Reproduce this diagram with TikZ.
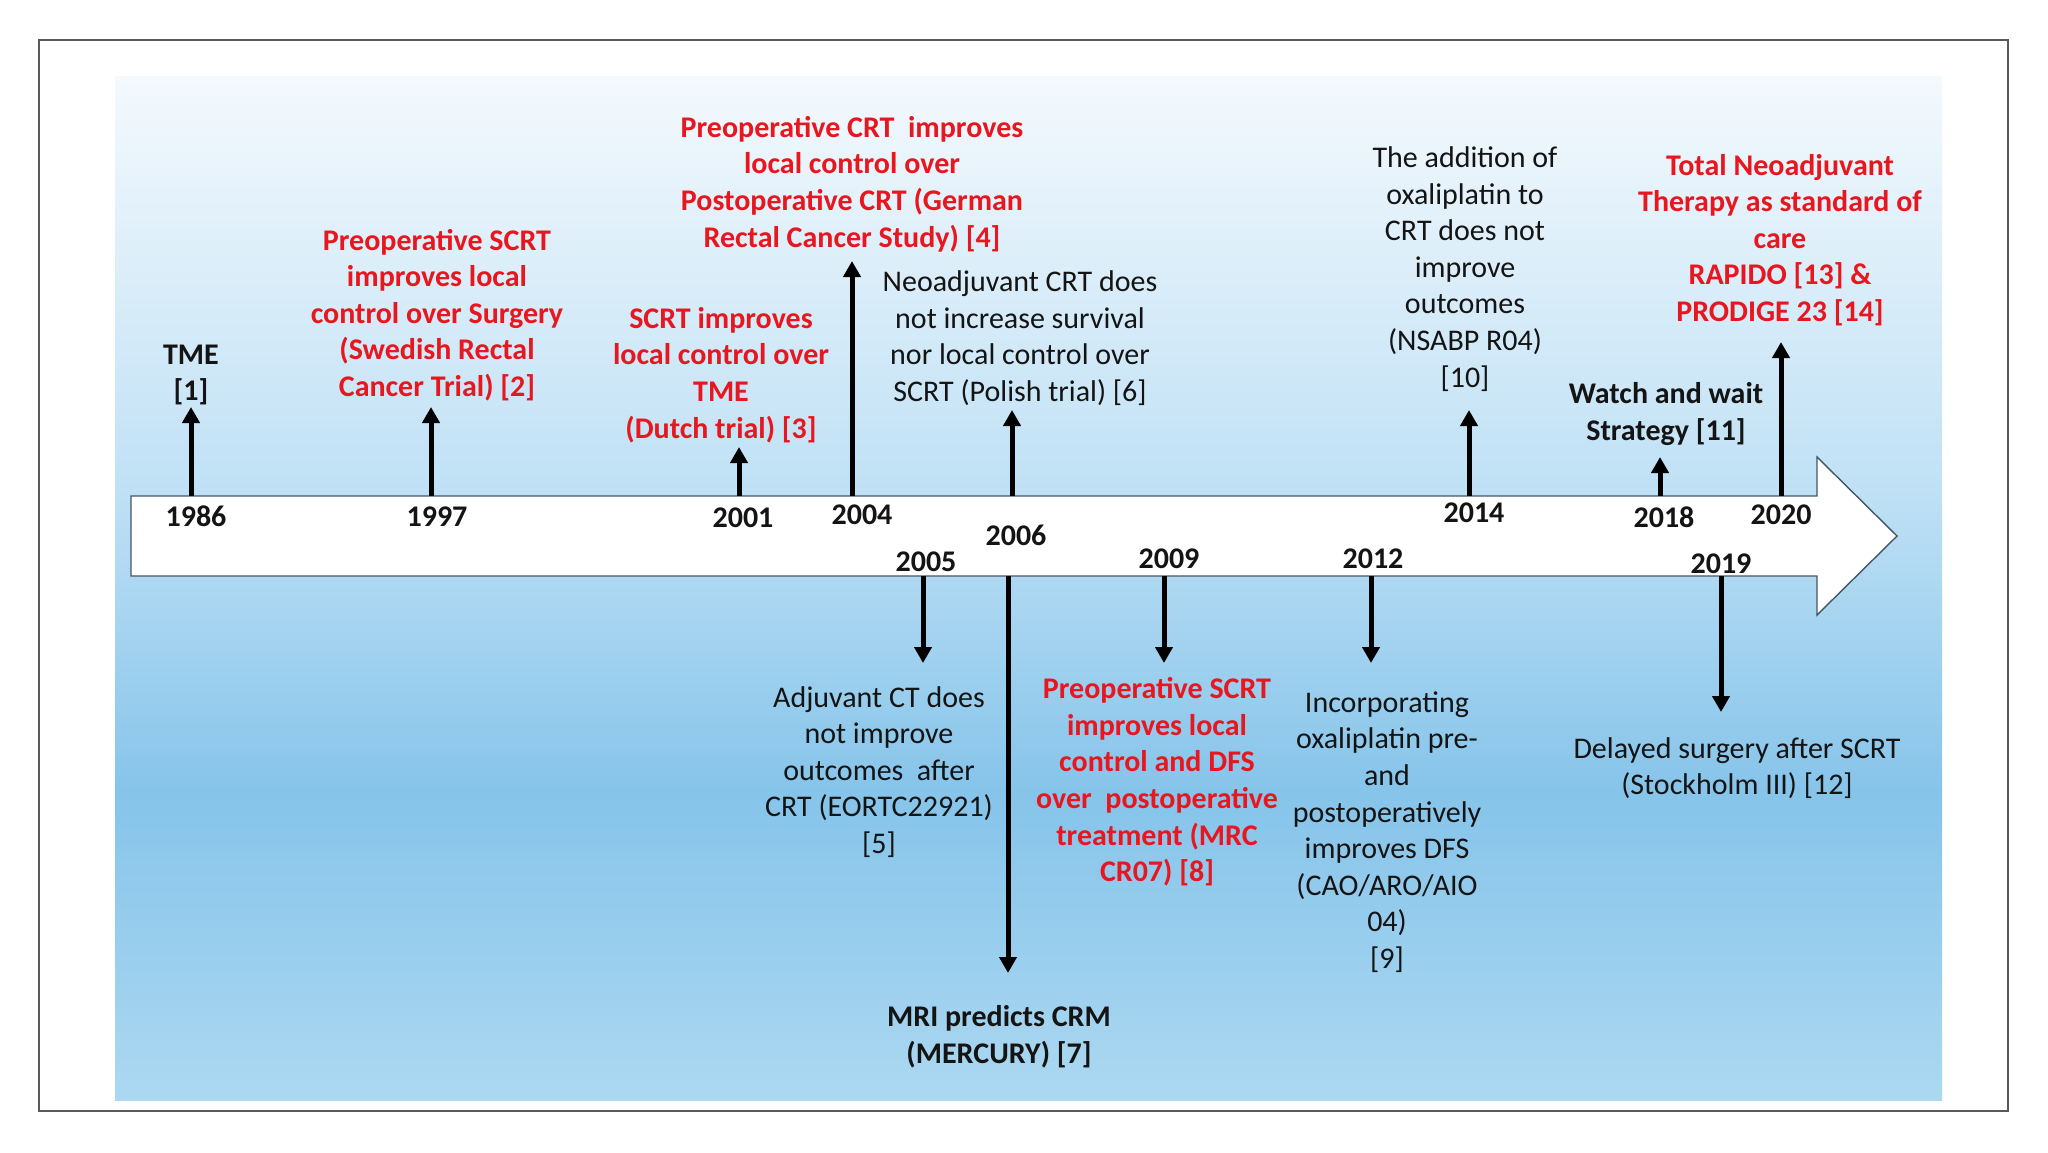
\documentclass[tikz,border=0pt]{standalone}
\usepackage{fontspec}
\setmainfont{Carlito}
\usetikzlibrary{arrows.meta}
\definecolor{redtxt}{RGB}{232,22,30}
\definecolor{blacktxt}{RGB}{20,20,20}
\definecolor{bgtop}{RGB}{244,249,253}
\definecolor{bgupper}{RGB}{192,225,245}
\definecolor{bgmid}{RGB}{134,196,234}
\definecolor{bgbot}{RGB}{172,216,241}
\definecolor{edgecol}{RGB}{70,85,100}
\pgfdeclareverticalshading{bgshade}{100bp}{color(0bp)=(bgbot); color(25bp)=(bgbot); color(40bp)=(bgmid); color(55bp)=(bgupper); color(75bp)=(bgtop); color(100bp)=(bgtop)}
\begin{document}
\begin{tikzpicture}[x=0.5pt,y=-0.5pt,
  lbl/.style={align=center,font=\fontsize{15}{18.3}\selectfont,text=blacktxt,inner sep=0pt},
  redlbl/.style={lbl,text=redtxt,font=\fontsize{15}{18.3}\selectfont\bfseries},
  boldlbl/.style={lbl,font=\fontsize{15}{18.3}\selectfont\bfseries},
  yearlbl/.style={boldlbl},
  evt/.style={line width=2.5pt,-{Triangle[width=8.5pt,length=8pt]},draw=black}]
\useasboundingbox (0,0) rectangle (2048,1152);
\fill[white] (0,0) rectangle (2048,1152);
% background
\shade[shading=bgshade] (115,76) rectangle (1942,1100);
\draw[line width=0.8pt,draw=black!65] (39,40) rectangle (2008,1111);
% timeline arrow
\draw[fill=white,draw=edgecol,line width=0.7pt] (131,496) -- (1817,496) -- (1817,457) -- (1897,536) -- (1817,615) -- (1817,576) -- (131,576) -- cycle;
% coordinates
\coordinate (b1986) at (191,496); \coordinate (h1986) at (191,407);
\coordinate (b1997) at (431,496); \coordinate (h1997) at (431,407);
\coordinate (b2001) at (739,496); \coordinate (h2001) at (739,447);
\coordinate (b2004) at (852,496); \coordinate (h2004) at (852,261);
\coordinate (b2006u) at (1012,496); \coordinate (h2006u) at (1012,410);
\coordinate (b2014) at (1469,496); \coordinate (h2014) at (1469,410);
\coordinate (b2018) at (1660,496); \coordinate (h2018) at (1660,457);
\coordinate (b2020) at (1781,496); \coordinate (h2020) at (1781,342);
\coordinate (b2005) at (923,576); \coordinate (h2005) at (923,663);
\coordinate (b2006d) at (1008,576); \coordinate (h2006d) at (1008,973);
\coordinate (b2009) at (1164,576); \coordinate (h2009) at (1164,663);
\coordinate (b2012) at (1371,576); \coordinate (h2012) at (1371,663);
\coordinate (b2019) at (1721,576); \coordinate (h2019) at (1721,712);
% arrows
\foreach \k in {1986,1997,2001,2004,2006u,2014,2018,2020,2005,2006d,2009,2012,2019}
  \draw[evt] (b\k) -- (h\k);
% years
\node[yearlbl] (y1986) at (196,516) {1986};
\node[yearlbl] (y1997) at (437,517) {1997};
\node[yearlbl] (y2001) at (743,518) {2001};
\node[yearlbl] (y2004) at (862,515) {2004};
\node[yearlbl] (y2006) at (1016,535) {2006};
\node[yearlbl] (y2014) at (1474,513) {2014};
\node[yearlbl] (y2018) at (1664,517) {2018};
\node[yearlbl] (y2020) at (1781,515) {2020};
\node[yearlbl] (y2005) at (926,562) {2005};
\node[yearlbl] (y2009) at (1169,559) {2009};
\node[yearlbl] (y2012) at (1373,559) {2012};
\node[yearlbl] (y2019) at (1721,564) {2019};
% event labels above
\node[boldlbl] (e1986) at (191,375) {TME\\{}[1]};
\node[redlbl] (e1997) at (437,315) {Preoperative SCRT\\improves local\\control over Surgery\\(Swedish Rectal\\Cancer Trial) [2]};
\node[redlbl] (e2001) at (721,375) {SCRT improves\\local control over\\TME\\(Dutch trial) [3]};
\node[redlbl] (e2004) at (852,184) {Preoperative CRT~ improves\\local control over\\Postoperative CRT (German\\Rectal Cancer Study) [4]};
\node[lbl] (e2006u) at (1020,338) {Neoadjuvant CRT does\\not increase survival\\nor local control over\\SCRT (Polish trial) [6]};
\node[lbl] (e2014) at (1465,269) {The addition of\\oxaliplatin to\\CRT does not\\improve\\outcomes\\(NSABP R04)\\{}[10]};
\node[boldlbl] (e2018) at (1666,414) {Watch and wait\\Strategy [11]};
\node[redlbl] (e2020) at (1780,240) {Total Neoadjuvant\\Therapy as standard of\\care\\RAPIDO [13] \&\\PRODIGE 23 [14]};
% event labels below
\node[lbl] (e2005) at (879,772) {Adjuvant CT does\\not improve\\outcomes~ after\\CRT (EORTC22921)\\{}[5]};
\node[boldlbl] (e2006d) at (999,1037) {MRI predicts CRM\\(MERCURY) [7]};
\node[redlbl] (e2009) at (1157,782) {Preoperative SCRT\\improves local\\control and DFS\\over~ postoperative\\treatment (MRC\\CR07) [8]};
\node[lbl] (e2012) at (1387,832) {Incorporating\\oxaliplatin pre-\\and\\postoperatively\\improves DFS\\(CAO/ARO/AIO\\04)\\{}[9]};
\node[lbl] (e2019) at (1737,768) {Delayed surgery after SCRT\\(Stockholm III) [12]};
\end{tikzpicture}
\end{document}
